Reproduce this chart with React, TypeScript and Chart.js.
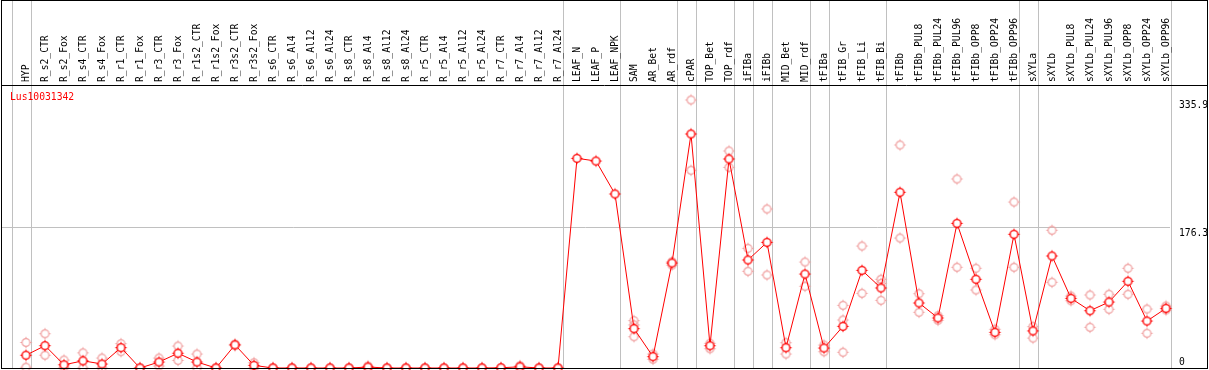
import React, { useEffect, useRef } from 'react';
import { Chart, registerables } from 'chart.js';

Chart.register(...registerables);

const geneId = 'Lus10031342';

const categories = [
  'HYP', 'R_s2_CTR', 'R_s2_Fox', 'R_s4_CTR', 'R_s4_Fox', 'R_r1_CTR', 'R_r1_Fox', 'R_r3_CTR', 'R_r3_Fox',
  'R_r1s2_CTR', 'R_r1s2_Fox', 'R_r3s2_CTR', 'R_r3s2_Fox', 'R_s6_CTR', 'R_s6_Al4', 'R_s6_Al12', 'R_s6_Al24',
  'R_s8_CTR', 'R_s8_Al4', 'R_s8_Al12', 'R_s8_Al24', 'R_r5_CTR', 'R_r5_Al4', 'R_r5_Al12', 'R_r5_Al24',
  'R_r7_CTR', 'R_r7_Al4', 'R_r7_Al12', 'R_r7_Al24', 'LEAF_N', 'LEAF_P', 'LEAF_NPK', 'SAM', 'AR_Bet', 'AR_rdf',
  'cPAR', 'TOP_Bet', 'TOP_rdf', 'iFIBa', 'iFIBb', 'MID_Bet', 'MID_rdf', 'tFIBa', 'tFIB_Gr', 'tFIB_Li', 'tFIB_Bi',
  'tFIBb', 'tFIBb_PUL8', 'tFIBb_PUL24', 'tFIBb_PUL96', 'tFIBb_OPP8', 'tFIBb_OPP24', 'tFIBb_OPP96',
  'sXYLa', 'sXYLb', 'sXYLb_PUL8', 'sXYLb_PUL24', 'sXYLb_PUL96', 'sXYLb_OPP8', 'sXYLb_OPP24', 'sXYLb_OPP96',
];

const expression = [
  16, 28, 4, 9, 5, 25.5, 0, 7.5, 18.5, 7.5, 0, 29, 3.3, 0, 0, 0, 0, 0, 1.2, 0, 0, 0, 0, 0, 0, 0.3, 1.5, 0, 0,
  262.8, 259.4, 218.1, 49.3, 14.2, 131.6, 293.3, 27.9, 262, 135.4, 157.5, 25.4, 117.8, 25, 52.2, 122.4, 100.3,
  220.2, 81.5, 62.7, 181.3, 111.2, 44.7, 167.6, 46.5, 140.4, 87.3, 71.8, 82.7, 108.7, 58.9, 74.8,
];

const replicateA = [
  32, 43, 10, 19, 12.5, 30.5, 0, 12.5, 27.5, 17.5, 0, 30, 6.6, 0, 0, 0, 0, 0, 2.4, 0, 0, 0, 0, 0, 0, 0, 3, 0, 0,
  null, null, null, 59.3, 17.5, 133.2, 335.9, 31, 272, 150, 199.3, 31.7, 132.8, 28.8, 78.5, 152.9, 111.2,
  279.5, 93.1, 65.5, 236.9, 125, 48.5, 208, 51.8, 172.6, 90.2, 91.5, 92.4, 125, 73.9, 77.7,
];

const replicateB = [
  1, 16, 1, 0, 0, 20.5, 0, 2.5, 9.5, 0, 0, 28, 0, 0, 0, 0, 0, 0, 0, 0, 0, 0, 0, 0, 0, 0, 0, 0, 0,
  null, null, null, 39.2, 10.9, 129, 247.8, 24.2, 251.5, 121.2, 116.6, 17.5, 102.4, 20.4, 19.7, 93.6, 84.8,
  162.9, 69.8, 59.8, 126.2, 97.8, 41.7, 126.2, 37.5, 107.4, 84.3, 51, 73.6, 92.4, 43.5, 72.7,
];

const replicateC = [
  null, null, null, null, null, null, null, null, null, null, null, null, null, null, null, null, null, null,
  null, null, null, null, null, null, null, null, null, null, null, null, null, null, 54, null, null, null,
  null, null, null, null, null, null, null, 60.2, null, 106, null, null, null, null, null, null, null, null,
  null, null, null, null, null, null, null,
];

// index of the last category of each group (-1 = before the first)
const groupEnds = [-1, 0, 28, 31, 34, 35, 37, 38, 39, 41, 42, 45, 52, 53, 60];

const yTickValues = [0, 176.3, 335.9];
const yMax = 354.7;

const FONT = "'DejaVu Sans Mono', monospace";
const FONT_SIZE = 9.7;

function makeMarker(color: string, fill: string | null, lw: number) {
  const c = document.createElement('canvas');
  c.width = 15;
  c.height = 15;
  const g = c.getContext('2d')!;
  g.strokeStyle = color;
  g.lineWidth = lw;
  g.beginPath();
  g.arc(7.5, 7.5, 3.9, 0, Math.PI * 2);
  if (fill) {
    g.fillStyle = fill;
    g.fill();
  }
  g.stroke();
  g.lineWidth = 1;
  g.beginPath();
  g.moveTo(7.5, 1.8); g.lineTo(7.5, 3);
  g.moveTo(7.5, 12); g.lineTo(7.5, 13.2);
  g.moveTo(1.8, 7.5); g.lineTo(3, 7.5);
  g.moveTo(12, 7.5); g.lineTo(13.2, 7.5);
  g.stroke();
  return c;
}

const framePlugin = {
  id: 'frame',
  beforeDraw(chart: any) {
    const { ctx, chartArea } = chart;
    const x = chart.scales.x;
    ctx.save();
    ctx.fillStyle = '#ffffff';
    ctx.fillRect(0, 0, chart.width, chart.height);
    ctx.strokeStyle = '#c0c0c0';
    ctx.lineWidth = 1;
    groupEnds.forEach((i) => {
      const px = Math.round(x.getPixelForValue(i + 0.24)) + 0.5;
      ctx.beginPath();
      ctx.moveTo(px, 0);
      ctx.lineTo(px, chartArea.bottom);
      ctx.stroke();
    });
    ctx.restore();
  },
  afterDraw(chart: any) {
    const { ctx, chartArea } = chart;
    ctx.save();
    ctx.strokeStyle = '#000000';
    ctx.lineWidth = 1;
    const b = Math.round(chartArea.bottom) + 0.5;
    ctx.strokeRect(1.5, 0.5, chart.width - 3, b - 0.5);
    const t = Math.round(chartArea.top) + 0.5;
    ctx.beginPath();
    ctx.moveTo(1, t);
    ctx.lineTo(chart.width - 1, t);
    ctx.stroke();
    ctx.fillStyle = '#ff0000';
    ctx.font = `${FONT_SIZE}px ${FONT}`;
    ctx.textBaseline = 'middle';
    ctx.textAlign = 'left';
    ctx.fillText(geneId, chartArea.left + 9, chartArea.top + 12.5);
    ctx.restore();
  },
};

export default function App() {
  const ref = useRef<HTMLCanvasElement>(null);

  useEffect(() => {
    document.body.style.margin = '0';
    const canvas = ref.current!;
    const mainMarker = makeMarker('#ff0000', '#ffffff', 1.4);
    const repMarker = makeMarker('#f0a0a0', null, 1.2);
    const xy = (arr: (number | null)[]) =>
      arr.map((v, i) => (v === null ? null : { x: i, y: v })).filter((p) => p !== null);
    const pointOpts = { pointRadius: 0.2, pointBorderWidth: 0, pointHoverRadius: 0.2, pointHitRadius: 0 };

    const chart = new Chart(canvas, {
      type: 'line',
      data: {
        datasets: [
          {
            label: geneId,
            data: xy(expression) as any,
            borderColor: '#ff0000',
            backgroundColor: '#ff0000',
            borderWidth: 1,
            pointStyle: mainMarker as any,
            tension: 0,
            clip: false as any,
            ...pointOpts,
          },
          { label: 'A', data: xy(replicateA) as any, showLine: false, borderWidth: 1, pointStyle: repMarker as any, clip: false as any, ...pointOpts },
          { label: 'B', data: xy(replicateB) as any, showLine: false, borderWidth: 1, pointStyle: repMarker as any, clip: false as any, ...pointOpts },
          { label: 'C', data: xy(replicateC) as any, showLine: false, borderWidth: 1, pointStyle: repMarker as any, clip: false as any, ...pointOpts },
        ],
      },
      options: {
        animation: false,
        responsive: false,
        events: [],
        layout: { padding: { left: 1, top: 0, right: 0, bottom: 2 } },
        plugins: {
          tooltip: { enabled: false },
          legend: { display: false },
        },
        scales: {
          x: {
            type: 'linear',
            position: 'top',
            min: -25 / 19,
            max: 60 + 4 / 19,
            grid: { display: false, drawTicks: false },
            border: { display: false },
            afterBuildTicks: (s: any) => {
              s.ticks = categories.map((_, i) => ({ value: i }));
            },
            afterFit: (s: any) => {
              s.height = 85;
              s.paddingLeft = 0;
              s.paddingRight = 0;
            },
            ticks: {
              autoSkip: false,
              minRotation: 90,
              maxRotation: 90,
              padding: 3,
              labelOffset: 12,
              color: '#000000',
              font: { family: FONT, size: FONT_SIZE },
              callback: (v: any) => categories[v as number],
            },
          },
          y: {
            type: 'linear',
            position: 'right',
            min: 0,
            max: yMax,
            afterBuildTicks: (s: any) => {
              s.ticks = yTickValues.map((v) => ({ value: v }));
            },
            afterFit: (s: any) => {
              s.width = 39;
              s.paddingTop = 0;
              s.paddingBottom = 0;
            },
            grid: {
              drawTicks: false,
              color: (c: any) => (c.tick && c.tick.value === 176.3 ? '#c0c0c0' : 'rgba(0,0,0,0)'),
            },
            border: { display: false },
            ticks: {
              padding: 9,
              color: '#000000',
              font: { family: FONT, size: FONT_SIZE },
              callback: (v: any) => (v === 0 ? ['0', ''] : ['', Number(v).toFixed(1)]),
            },
          },
        },
      },
      plugins: [framePlugin],
    });
    return () => chart.destroy();
  }, []);

  return (
    <div style={{ width: 1209, height: 370 }}>
      <canvas ref={ref} width={1209} height={370} style={{ display: 'block' }} />
    </div>
  );
}
